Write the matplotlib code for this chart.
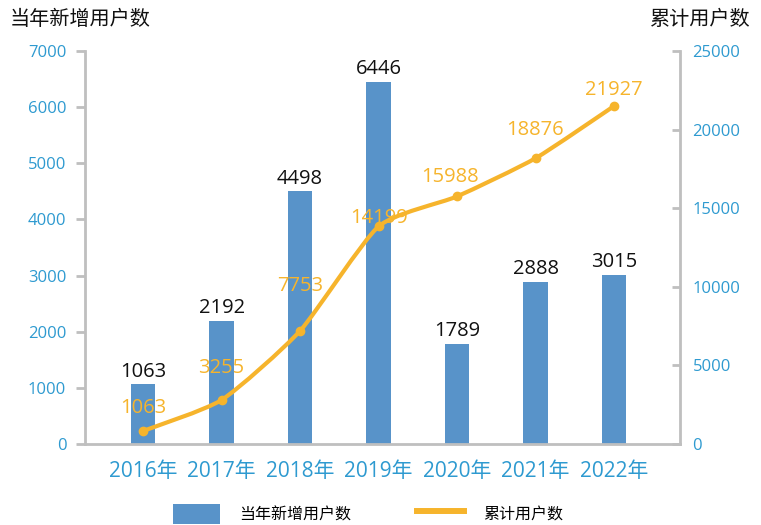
import matplotlib
matplotlib.use("Agg")
import matplotlib.pyplot as plt
from matplotlib.patches import Patch, PathPatch
from matplotlib.lines import Line2D
from matplotlib.path import Path

plt.rcParams['font.family'] = ['Open Sans', 'Noto Sans CJK SC', 'DejaVu Sans']

years = ['2016年', '2017年', '2018年', '2019年', '2020年', '2021年', '2022年']
new_users = [1063, 2192, 4498, 6446, 1789, 2888, 3015]
# where the line points sit on the right axis
total_points = [830, 2800, 7200, 13840, 15750, 18180, 21500]
# the numbers printed next to the line
total_labels = ['1063', '3255', '7753', '14199', '15988', '18876', '21927']

bar_color = '#5893C9'
line_color = '#F6B42C'
tick_color = '#2E9AD0'
spine_color = '#BFBFBF'

fig = plt.figure(figsize=(7.61, 5.25), dpi=100)
ax = fig.add_axes([0.1117, 0.1543, 0.7819, 0.7486])
ax2 = ax.twinx()

x = list(range(len(years)))
ax.bar(x, new_users, width=0.31, color=bar_color, zorder=2)
for xi, v in zip(x, new_users):
    ax.annotate(str(v), (xi, v), xytext=(0, 2), textcoords='offset points',
                ha='center', va='bottom', fontsize=14.5, color='#111111')

# lightly smoothed line (bezier through the points)
tension = 10
verts = [(x[0], total_points[0])]
codes = [Path.MOVETO]
n = len(x)
for i in range(n - 1):
    p0 = (x[max(i - 1, 0)], total_points[max(i - 1, 0)])
    p1 = (x[i], total_points[i])
    p2 = (x[i + 1], total_points[i + 1])
    p3 = (x[min(i + 2, n - 1)], total_points[min(i + 2, n - 1)])
    c1 = (p1[0] + (p2[0] - p0[0]) / tension, p1[1] + (p2[1] - p0[1]) / tension)
    c2 = (p2[0] - (p3[0] - p1[0]) / tension, p2[1] - (p3[1] - p1[1]) / tension)
    verts += [c1, c2, p2]
    codes += [Path.CURVE4] * 3
ax2.add_patch(PathPatch(Path(verts, codes), facecolor='none', edgecolor=line_color,
                        lw=3, capstyle='round', joinstyle='round', zorder=3))
ax2.plot(x, total_points, ls='none', marker='o', ms=6, color=line_color, zorder=3)

# label offsets above each point (pixels)
lab_dy = [23, 32, 45, 8, 19, 28, 16]
lab_dx = [0, 0, 0, 0, -7, -1, 0]
for xi, v, t, dy, dx in zip(x, total_points, total_labels, lab_dy, lab_dx):
    ax2.annotate(t, (xi, v), xytext=(dx * 0.72, dy * 0.72), textcoords='offset points',
                 ha='center', va='center', fontsize=14.5, color=line_color, zorder=2)

ax.set_xlim(-0.74, 6.84)
ax.set_ylim(0, 7000)
ax2.set_ylim(0, 25000)
ax.set_yticks(range(0, 7001, 1000))
ax2.set_yticks(range(0, 25001, 5000))
ax.set_xticks(x)
ax.set_xticklabels(years)

for a in (ax, ax2):
    a.spines['top'].set_visible(False)
    for s in ('left', 'right', 'bottom'):
        a.spines[s].set_color(spine_color)
        a.spines[s].set_linewidth(2)
ax.spines['right'].set_visible(False)
ax2.spines['left'].set_visible(False)
ax2.spines['bottom'].set_visible(False)

ax.tick_params(axis='y', direction='out', length=6.5, width=2, color=spine_color,
               labelcolor=tick_color, labelsize=12, pad=7)
ax.tick_params(axis='x', length=0, labelcolor=tick_color, labelsize=15, pad=12)
ax2.tick_params(axis='y', direction='in', length=6, width=2, color=spine_color,
                labelcolor=tick_color, labelsize=12, pad=9)

fig.text(0.013, 0.962, '当年新增用户数', fontsize=14.5, ha='left', va='center', color='#111111')
fig.text(0.986, 0.962, '累计用户数', fontsize=14.5, ha='right', va='center', color='#111111')

handles = [Patch(facecolor=bar_color, edgecolor='none'),
           Line2D([0], [0], color=line_color, lw=4.3)]
fig.legend(handles, ['当年新增用户数', '累计用户数'], loc='center',
           bbox_to_anchor=(0.4836, 0.021), ncol=2, frameon=False, fontsize=11.5,
           handlelength=2.94, handleheight=1.6, handletextpad=1.19,
           columnspacing=4.1, borderpad=0)

fig.savefig('out.png', dpi=100)
